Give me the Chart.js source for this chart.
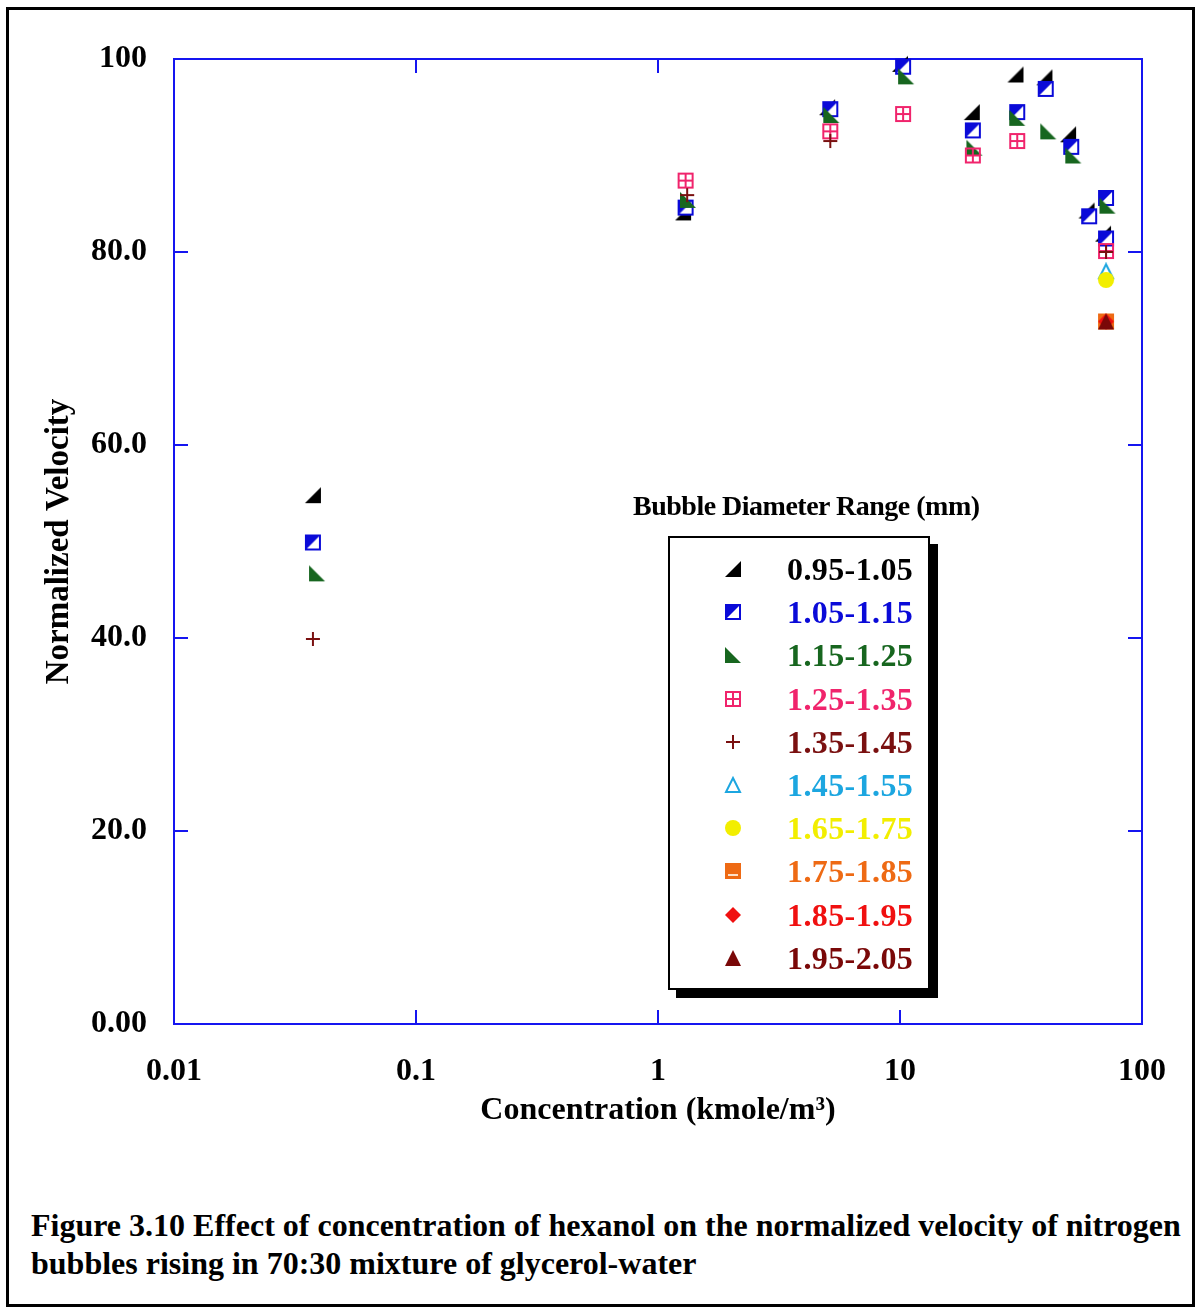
<!DOCTYPE html>
<html>
<head>
<meta charset="utf-8">
<title>Normalized velocity vs hexanol concentration</title>
<script src="https://cdn.jsdelivr.net/npm/chart.js@4.4.1/dist/chart.umd.min.js"></script>
<style>
  html, body { margin: 0; padding: 0; background: #fff; }
  body {
    width: 1195px; height: 1310px; position: relative; overflow: hidden;
    font-family: 'Liberation Serif', 'Times New Roman', serif;
  }
  #frame {
    position: absolute; left: 6px; top: 7px; width: 1183px; height: 1294px;
    border: 3px solid #000; box-sizing: content-box;
  }
  #chartWrap { position: absolute; left: 0; top: 0; width: 1195px; height: 1150px; }
  #legendTitle {
    position: absolute; left: 633px; top: 490px; font-size: 28px; font-weight: bold;
    letter-spacing: -0.5px; white-space: nowrap; color: #000;
  }
  #legendBox {
    position: absolute; left: 668px; top: 536px; width: 258px; height: 450px;
    border: 2px solid #000; background: #fff; box-shadow: 8px 8px 0 #000;
  }
  #legendBox .row { position: absolute; left: 0; height: 32px; width: 250px; }
  #legendBox .row canvas { position: absolute; left: 54px; top: 7px; }
  #legendBox .row span {
    position: absolute; left: 117px; top: 0; font-size: 32px; line-height: 32px;
    font-weight: bold; white-space: nowrap; letter-spacing: 0.4px;
  }
  #caption {
    position: absolute; left: 31px; top: 1206px; font-size: 32px; line-height: 38px;
    font-weight: bold; white-space: nowrap; color: #000;
  }
</style>
</head>
<body>
<div id="frame"></div>
<div id="chartWrap"><canvas id="chart" width="1195" height="1150"></canvas></div>
<div id="legendTitle">Bubble Diameter Range (mm)</div>
<div id="legendBox"></div>
<div id="caption">Figure 3.10 Effect of concentration of hexanol on the normalized velocity of nitrogen<br>bubbles rising in 70:30 mixture of glycerol-water</div>

<script>
// bubble diameter ranges (mm)
const seriesLabels = ['0.95-1.05', '1.05-1.15', '1.15-1.25', '1.25-1.35', '1.35-1.45',
                      '1.45-1.55', '1.65-1.75', '1.75-1.85', '1.85-1.95', '1.95-2.05'];
const seriesColors = ['#000000', '#0a0ad8', '#17661f', '#f0246c', '#7a1010',
                      '#1ca6e0', '#f2ee00', '#ee6a14', '#f01010', '#7a0808'];
const seriesMarkers = ['triBR', 'halfSquare', 'triBL', 'gridSquare', 'plus',
                       'openTri', 'circle', 'barSquare', 'diamond', 'triangle'];

// concentration (kmole/m3) and normalized velocity, per range
const conc095 = [0.0375, 1.27, 5.0, 10.0, 19.8, 30, 39.5, 49.5, 59, 69];
const vel095  = [54.8, 84.1, 95.0, 99.5, 94.5, 98.4, 98.1, 92.2, 84.3, 81.9];
const conc105 = [0.0375, 1.3, 5.15, 10.3, 20, 30.5, 40, 51, 60.5, 71, 71];
const vel105  = [49.9, 84.6, 94.8, 99.2, 92.6, 94.5, 96.9, 90.9, 83.7, 85.6, 81.4];
const conc115 = [0.039, 1.33, 5.2, 10.6, 20.3, 30.5, 41, 52, 72];
const vel115  = [46.7, 85.4, 94.2, 98.2, 90.8, 93.9, 92.5, 90.0, 84.8];
const conc125 = [1.3, 5.15, 10.3, 20, 30.5, 71];
const vel125  = [87.4, 92.5, 94.3, 90.0, 91.5, 80.1];
const conc135 = [0.0375, 1.32, 5.15, 71];
const vel135  = [39.9, 85.9, 91.5, 80.0];
const conc145 = [71];
const vel145  = [78.0];
const conc165 = [71];
const vel165  = [77.1];
const conc175 = [71];
const vel175  = [72.8];
const conc185 = [71];
const vel185  = [72.8];
const conc195 = [71];
const vel195  = [72.8];

const seriesConc = [conc095, conc105, conc115, conc125, conc135, conc145, conc165, conc175, conc185, conc195];
const seriesVel  = [vel095, vel105, vel115, vel125, vel135, vel145, vel165, vel175, vel185, vel195];

// axis ticks
const xTickValues = [0.01, 0.1, 1, 10, 100];
const xTickLabels = ['0.01', '0.1', '1', '10', '100'];
const yTickValues = [0, 20, 40, 60, 80, 100];
const yTickLabels = ['0.00', '20.0', '40.0', '60.0', '80.0', '100'];

const axisBlue = '#1515f0';
const serif = "'Liberation Serif', 'Times New Roman', serif";

function makeMarker(kind, color) {
  const s = 18;
  const c = document.createElement('canvas');
  c.width = s; c.height = s;
  const g = c.getContext('2d');
  g.fillStyle = color;
  g.strokeStyle = color;
  g.lineWidth = 2;
  g.beginPath();
  switch (kind) {
    case 'triBR':
      g.moveTo(s - 1, 1); g.lineTo(s - 1, s - 1); g.lineTo(1, s - 1); g.closePath(); g.fill();
      break;
    case 'triBL':
      g.moveTo(1, 1); g.lineTo(1, s - 1); g.lineTo(s - 1, s - 1); g.closePath(); g.fill();
      break;
    case 'halfSquare':
      g.fillStyle = '#fff'; g.fillRect(1, 1, s - 2, s - 2);
      g.fillStyle = color;
      g.moveTo(1, 1); g.lineTo(s - 1, 1); g.lineTo(1, s - 1); g.closePath(); g.fill();
      g.strokeRect(2, 2, s - 4, s - 4);
      break;
    case 'gridSquare':
      g.strokeRect(2, 2, s - 4, s - 4);
      g.moveTo(s / 2, 2); g.lineTo(s / 2, s - 2);
      g.moveTo(2, s / 2); g.lineTo(s - 2, s / 2);
      g.stroke();
      break;
    case 'plus':
      g.moveTo(s / 2, 2); g.lineTo(s / 2, s - 2);
      g.moveTo(2, s / 2); g.lineTo(s - 2, s / 2);
      g.stroke();
      break;
    case 'openTri':
      g.moveTo(s / 2, 2); g.lineTo(s - 2, s - 2); g.lineTo(2, s - 2); g.closePath(); g.stroke();
      break;
    case 'circle':
      g.arc(s / 2, s / 2, 8, 0, Math.PI * 2); g.fill();
      break;
    case 'barSquare':
      g.fillRect(1, 1, s - 2, s - 2);
      g.fillStyle = '#fde0c8'; g.fillRect(4, s - 6, s - 8, 2);
      break;
    case 'diamond':
      g.moveTo(s / 2, 1); g.lineTo(s - 1, s / 2); g.lineTo(s / 2, s - 1); g.lineTo(1, s / 2);
      g.closePath(); g.fill();
      break;
    case 'triangle':
      g.moveTo(s / 2, 1); g.lineTo(s - 1, s - 1); g.lineTo(1, s - 1); g.closePath(); g.fill();
      break;
  }
  return c;
}

// blue frame with inward ticks on all four sides
const frameAndTicks = {
  id: 'frameAndTicks',
  beforeDatasetsDraw(chart) {
    const { ctx, chartArea: a, scales } = chart;
    const tickLen = 14;
    ctx.save();
    ctx.strokeStyle = axisBlue;
    ctx.lineWidth = 2;
    ctx.strokeRect(a.left, a.top, a.right - a.left, a.bottom - a.top);
    ctx.beginPath();
    xTickValues.slice(1, -1).forEach(v => {
      const px = Math.round(scales.x.getPixelForValue(v));
      ctx.moveTo(px, a.bottom); ctx.lineTo(px, a.bottom - tickLen);
      ctx.moveTo(px, a.top); ctx.lineTo(px, a.top + tickLen);
    });
    yTickValues.slice(1, -1).forEach(v => {
      const py = Math.round(scales.y.getPixelForValue(v));
      ctx.moveTo(a.left, py); ctx.lineTo(a.left + tickLen, py);
      ctx.moveTo(a.right, py); ctx.lineTo(a.right - tickLen, py);
    });
    ctx.stroke();
    ctx.restore();
  }
};

const datasets = seriesLabels.map((label, i) => ({
  label: label,
  data: seriesConc[i].map((x, j) => ({ x: x, y: seriesVel[i][j] })),
  pointStyle: makeMarker(seriesMarkers[i], seriesColors[i]),
  pointRadius: 9,
  pointHoverRadius: 9,
  showLine: false,
  clip: false,
  order: seriesLabels.length - i
}));

new Chart(document.getElementById('chart'), {
  type: 'scatter',
  data: { datasets: datasets },
  plugins: [frameAndTicks],
  options: {
    responsive: false,
    animation: false,
    devicePixelRatio: 1,
    layout: { padding: { top: 59, right: 53, left: 0, bottom: 0 } },
    plugins: { legend: { display: false }, tooltip: { enabled: false } },
    scales: {
      x: {
        type: 'logarithmic',
        position: 'bottom',
        min: 0.01,
        max: 100,
        afterBuildTicks: scale => { scale.ticks = xTickValues.map(v => ({ value: v, major: true })); },
        afterFit: scale => { scale.height = 126; },
        grid: { display: false, drawTicks: false },
        border: { display: false },
        ticks: {
          autoSkip: false,
          maxRotation: 0,
          padding: 29,
          color: '#000',
          font: { family: serif, size: 32, weight: 'bold' },
          callback: (value, index) => xTickLabels[index]
        },
        title: {
          display: true,
          text: 'Concentration (kmole/m³)',
          color: '#000',
          font: { family: serif, size: 32, weight: 'bold' },
          padding: { top: 0, bottom: 20 }
        }
      },
      y: {
        position: 'left',
        min: 0,
        max: 100,
        afterBuildTicks: scale => { scale.ticks = yTickValues.map(v => ({ value: v })); },
        afterFit: scale => { scale.width = 174; },
        grid: { display: false, drawTicks: false },
        border: { display: false },
        ticks: {
          padding: 27,
          color: '#000',
          font: { family: serif, size: 32, weight: 'bold' },
          callback: (value, index) => yTickLabels[index]
        },
        title: {
          display: true,
          text: 'Normalized Velocity',
          color: '#000',
          font: { family: serif, size: 33, weight: 'bold' },
          padding: { top: 40, bottom: 0 }
        }
      }
    }
  }
});

// legend panel, built from the same series lists
const legendBox = document.getElementById('legendBox');
seriesLabels.forEach((label, i) => {
  const row = document.createElement('div');
  row.className = 'row';
  row.style.top = (15 + i * 43.2) + 'px';
  const mk = makeMarker(seriesMarkers[i], seriesColors[i]);
  const txt = document.createElement('span');
  txt.textContent = label;
  txt.style.color = seriesColors[i];
  row.append(mk, txt);
  legendBox.append(row);
});
</script>
</body>
</html>
